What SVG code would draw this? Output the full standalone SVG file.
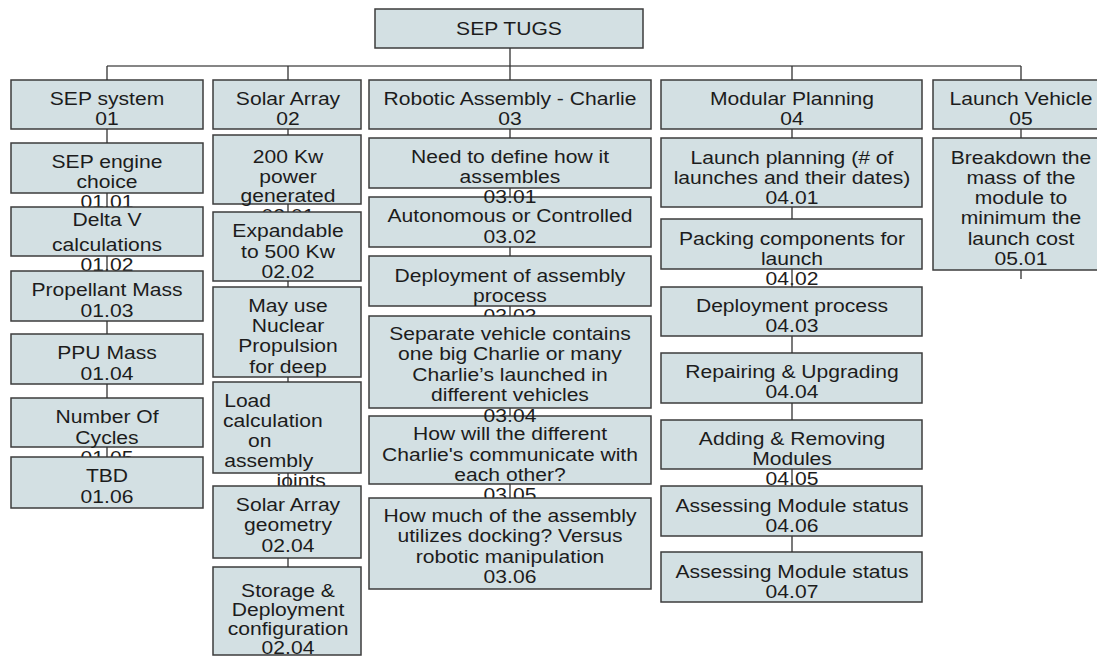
<svg xmlns="http://www.w3.org/2000/svg" width="1097" height="656" viewBox="0 0 1097 656">
<style>
.b{fill:#d3e0e3;stroke:#3d3d3d;stroke-width:1.5}
.t{font-family:"Liberation Sans",Arial,sans-serif;font-size:18.5px;fill:#1c1c1c;text-anchor:middle}
.l{text-anchor:start}
.c{fill:none;stroke:#333;stroke-width:1.3}
.bus{fill:none;stroke:#5e5e5e;stroke-width:1.6}
</style>
<rect width="1097" height="656" fill="#fff"/>
<g id="root"><rect class="b" x="375" y="9" width="268" height="39"/><text class="t" transform="matrix(1.14 0 0 1 509 0)"><tspan x="0" y="35">SEP TUGS</tspan></text></g>

<g id="n01"><rect class="b" x="11" y="80" width="192" height="49"/><text class="t" transform="matrix(1.14 0 0 1 107 0)"><tspan x="0" y="105">SEP system</tspan><tspan x="0" y="125">01</tspan></text></g>
<g id="n01_01"><rect class="b" x="11" y="143" width="192" height="50"/><text class="t" transform="matrix(1.14 0 0 1 107 0)"><tspan x="0" y="168">SEP engine</tspan><tspan x="0" y="188">choice</tspan><tspan x="0" y="208">01.01</tspan></text></g>
<g id="n01_02"><rect class="b" x="11" y="207" width="192" height="49"/><text class="t" transform="matrix(1.14 0 0 1 107 0)"><tspan x="0" y="226">Delta V</tspan><tspan x="0" y="251">calculations</tspan><tspan x="0" y="271">01.02</tspan></text></g>
<g id="n01_03"><rect class="b" x="11" y="271" width="192" height="50"/><text class="t" transform="matrix(1.14 0 0 1 107 0)"><tspan x="0" y="296">Propellant Mass</tspan><tspan x="0" y="317">01.03</tspan></text></g>
<g id="n01_04"><rect class="b" x="11" y="334" width="192" height="50"/><text class="t" transform="matrix(1.14 0 0 1 107 0)"><tspan x="0" y="359">PPU Mass</tspan><tspan x="0" y="380">01.04</tspan></text></g>
<g id="n01_05"><rect class="b" x="11" y="398" width="192" height="49"/><text class="t" transform="matrix(1.14 0 0 1 107 0)"><tspan x="0" y="423">Number Of</tspan><tspan x="0" y="444">Cycles</tspan><tspan x="0" y="464">01.05</tspan></text></g>
<g id="n01_06"><rect class="b" x="11" y="457" width="192" height="51"/><text class="t" transform="matrix(1.14 0 0 1 107 0)"><tspan x="0" y="482">TBD</tspan><tspan x="0" y="503">01.06</tspan></text></g>

<g id="n02"><rect class="b" x="213" y="80" width="148" height="49"/><text class="t" transform="matrix(1.14 0 0 1 288 0)"><tspan x="0" y="105">Solar Array</tspan><tspan x="0" y="125">02</tspan></text></g>
<g id="n02_01"><rect class="b" x="213" y="135" width="148" height="69"/><text class="t" transform="matrix(1.14 0 0 1 288 0)"><tspan x="0" y="163">200 Kw</tspan><tspan x="0" y="183">power</tspan><tspan x="0" y="202">generated</tspan><tspan x="0" y="222">02.01</tspan></text></g>
<g id="n02_02"><rect class="b" x="213" y="212" width="148" height="69"/><text class="t" transform="matrix(1.14 0 0 1 288 0)"><tspan x="0" y="237">Expandable</tspan><tspan x="0" y="258">to 500 Kw</tspan><tspan x="0" y="278">02.02</tspan></text></g>
<g id="n02_03"><rect class="b" x="213" y="287" width="148" height="90"/><text class="t" transform="matrix(1.14 0 0 1 288 0)"><tspan x="0" y="312">May use</tspan><tspan x="0" y="332">Nuclear</tspan><tspan x="0" y="352">Propulsion</tspan><tspan x="0" y="373">for deep</tspan></text></g>
<g id="n02_load"><rect class="b" x="213" y="382" width="148" height="91"/><text class="t l" transform="matrix(1.14 0 0 1 288 0)"><tspan x="-56" y="407">Load</tspan><tspan x="-57" y="427">calculation</tspan><tspan x="-35" y="447">on</tspan><tspan x="-56" y="467">assembly</tspan><tspan x="-10" y="487">joints</tspan></text></g>
<g id="n02_04a"><rect class="b" x="213" y="486" width="148" height="72"/><text class="t" transform="matrix(1.14 0 0 1 288 0)"><tspan x="0" y="511">Solar Array</tspan><tspan x="0" y="531">geometry</tspan><tspan x="0" y="552">02.04</tspan></text></g>
<g id="n02_04b"><rect class="b" x="213" y="567" width="148" height="88"/><text class="t" transform="matrix(1.14 0 0 1 288 0)"><tspan x="0" y="597">Storage &amp;</tspan><tspan x="0" y="616">Deployment</tspan><tspan x="0" y="635">configuration</tspan><tspan x="0" y="654">02.04</tspan></text></g>

<g id="n03"><rect class="b" x="369" y="80" width="282" height="49"/><text class="t" transform="matrix(1.14 0 0 1 510 0)"><tspan x="0" y="105">Robotic Assembly - Charlie</tspan><tspan x="0" y="125">03</tspan></text></g>
<g id="n03_02"><rect class="b" x="369" y="197" width="282" height="50"/><text class="t" transform="matrix(1.14 0 0 1 510 0)"><tspan x="0" y="222">Autonomous or Controlled</tspan><tspan x="0" y="243">03.02</tspan></text></g>
<g id="n03_01"><rect class="b" x="369" y="138" width="282" height="50"/><text class="t" transform="matrix(1.14 0 0 1 510 0)"><tspan x="0" y="163">Need to define how it</tspan><tspan x="0" y="183">assembles</tspan><tspan x="0" y="203">03.01</tspan></text></g>
<g id="n03_03"><rect class="b" x="369" y="256" width="282" height="50"/><text class="t" transform="matrix(1.14 0 0 1 510 0)"><tspan x="0" y="282">Deployment of assembly</tspan><tspan x="0" y="302">process</tspan><tspan x="0" y="322">03.03</tspan></text></g>
<g id="n03_05"><rect class="b" x="369" y="416" width="282" height="68"/><text class="t" transform="matrix(1.14 0 0 1 510 0)"><tspan x="0" y="440">How will the different</tspan><tspan x="0" y="461">Charlie's communicate with</tspan><tspan x="0" y="481">each other?</tspan><tspan x="0" y="501">03.05</tspan></text></g>
<g id="n03_04"><rect class="b" x="369" y="316" width="282" height="92"/><text class="t" transform="matrix(1.14 0 0 1 510 0)"><tspan x="0" y="340">Separate vehicle contains</tspan><tspan x="0" y="360">one big Charlie or many</tspan><tspan x="0" y="381">Charlie’s launched in</tspan><tspan x="0" y="401">different vehicles</tspan><tspan x="0" y="422">03.04</tspan></text></g>
<g id="n03_06"><rect class="b" x="369" y="498" width="282" height="91"/><text class="t" transform="matrix(1.14 0 0 1 510 0)"><tspan x="0" y="522">How much of the assembly</tspan><tspan x="0" y="542">utilizes docking? Versus</tspan><tspan x="0" y="563">robotic manipulation</tspan><tspan x="0" y="583">03.06</tspan></text></g>

<g id="n04"><rect class="b" x="661" y="80" width="261" height="49"/><text class="t" transform="matrix(1.14 0 0 1 792 0)"><tspan x="0" y="105">Modular Planning</tspan><tspan x="0" y="125">04</tspan></text></g>
<g id="n04_01"><rect class="b" x="661" y="138" width="261" height="69"/><text class="t" transform="matrix(1.14 0 0 1 792 0)"><tspan x="0" y="164">Launch planning (# of</tspan><tspan x="0" y="184">launches and their dates)</tspan><tspan x="0" y="204">04.01</tspan></text></g>
<g id="n04_02"><rect class="b" x="661" y="219" width="261" height="50"/><text class="t" transform="matrix(1.14 0 0 1 792 0)"><tspan x="0" y="245">Packing components for</tspan><tspan x="0" y="265">launch</tspan><tspan x="0" y="285">04.02</tspan></text></g>
<g id="n04_03"><rect class="b" x="661" y="287" width="261" height="49"/><text class="t" transform="matrix(1.14 0 0 1 792 0)"><tspan x="0" y="312">Deployment process</tspan><tspan x="0" y="332">04.03</tspan></text></g>
<g id="n04_04"><rect class="b" x="661" y="353" width="261" height="50"/><text class="t" transform="matrix(1.14 0 0 1 792 0)"><tspan x="0" y="378">Repairing &amp; Upgrading</tspan><tspan x="0" y="398">04.04</tspan></text></g>
<g id="n04_05"><rect class="b" x="661" y="420" width="261" height="49"/><text class="t" transform="matrix(1.14 0 0 1 792 0)"><tspan x="0" y="445">Adding &amp; Removing</tspan><tspan x="0" y="465">Modules</tspan><tspan x="0" y="485">04.05</tspan></text></g>
<g id="n04_06"><rect class="b" x="661" y="486" width="261" height="50"/><text class="t" transform="matrix(1.14 0 0 1 792 0)"><tspan x="0" y="512">Assessing Module status</tspan><tspan x="0" y="532">04.06</tspan></text></g>
<g id="n04_07"><rect class="b" x="661" y="552" width="261" height="50"/><text class="t" transform="matrix(1.14 0 0 1 792 0)"><tspan x="0" y="578">Assessing Module status</tspan><tspan x="0" y="598">04.07</tspan></text></g>

<g id="n05"><rect class="b" x="933" y="80" width="176" height="49"/><text class="t" transform="matrix(1.14 0 0 1 1021 0)"><tspan x="0" y="105">Launch Vehicle</tspan><tspan x="0" y="125">05</tspan></text></g>
<g id="n05_01"><rect class="b" x="933" y="138" width="176" height="132"/><text class="t" transform="matrix(1.14 0 0 1 1021 0)"><tspan x="0" y="164">Breakdown the</tspan><tspan x="0" y="184">mass of the</tspan><tspan x="0" y="204">module to</tspan><tspan x="0" y="224">minimum the</tspan><tspan x="0" y="245">launch cost</tspan><tspan x="0" y="265">05.01</tspan></text></g>

<g id="connectors">
<path class="bus" d="M107 66H1021"/>
<path class="c" d="M510 48V80M107 66V80M288 66V80M792 66V80M1021 66V80"/>
<path class="c" d="M107 129V143M107 193V207M107 256V271M107 321V334M107 384V398M107 447V457"/>
<path class="c" d="M288 129V135M288 204V212M288 281V287M288 377V382M288 473V486M288 558V567"/>
<path class="c" d="M510 129V138M510 188V197M510 247V256M510 306V316M510 408V416M510 484V498"/>
<path class="c" d="M792 129V138M792 207V219M792 269V287M792 336V353M792 403V420M792 469V486M792 536V552"/>
<path class="c" d="M1021 129V138M1021 270V279"/>
</g>
</svg>
